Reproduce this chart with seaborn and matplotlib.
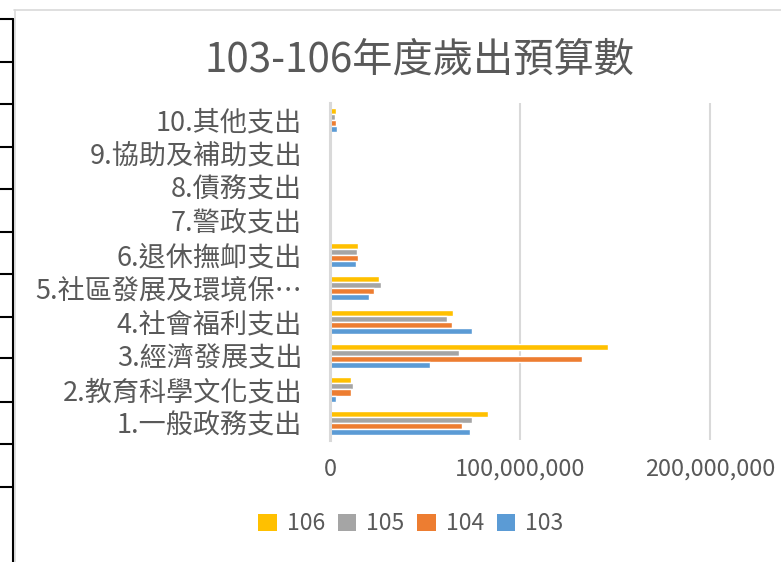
import pandas as pd
import seaborn as sns
import matplotlib.pyplot as plt
from matplotlib.patches import Patch
from matplotlib.lines import Line2D
from matplotlib.ticker import FuncFormatter, MultipleLocator

# 歲出項目 (top to bottom as drawn)
items = ['10.其他支出', '9.協助及補助支出', '8.債務支出', '7.警政支出', '6.退休撫卹支出',
         '5.社區發展及環境保…', '4.社會福利支出', '3.經濟發展支出', '2.教育科學文化支出', '1.一般政務支出']
years = ['106', '105', '104', '103']

# values (NT$)
v106 = [3.2e6, 0, 0, 0, 14.7e6, 25.8e6, 64.6e6, 146.5e6, 10.9e6, 83.3e6]
v105 = [2.8e6, 0, 0, 0, 14.2e6, 26.8e6, 61.4e6, 67.9e6, 12.3e6, 74.9e6]
v104 = [3.2e6, 0, 0, 0, 14.7e6, 23.0e6, 64.2e6, 132.6e6, 10.9e6, 69.6e6]
v103 = [3.5e6, 0, 0, 0, 13.7e6, 20.5e6, 74.7e6, 52.6e6, 3.3e6, 73.7e6]

colors = {'106': '#FFC000', '105': '#A5A5A5', '104': '#ED7D31', '103': '#5B9BD5'}

rows = []
for yr, vals in zip(years, [v106, v105, v104, v103]):
    for it, v in zip(items, vals):
        rows.append({'item': it, 'year': yr, 'value': v})
df = pd.DataFrame(rows)

sns.set_theme(style='white')
plt.rcParams['font.family'] = ['Noto Sans CJK TC', 'DejaVu Sans']
txt = '#595959'

fig = plt.figure(figsize=(7.81, 5.62), dpi=100)
ax = fig.add_axes([330 / 781, 1 - 440 / 562, 475 / 781, 337 / 562])

sns.barplot(data=df, y='item', x='value', hue='year', order=items, hue_order=years,
            palette=colors, width=0.72, saturation=1, orient='h', legend=False, ax=ax)

ax.set_xlim(0, 250e6)
ax.set_ylim(9.5, -0.5)
ax.xaxis.set_major_locator(MultipleLocator(100e6))
ax.xaxis.set_major_formatter(FuncFormatter(lambda x, p: f'{x:,.0f}'))
ax.grid(axis='x', color='#D9D9D9', linewidth=1.5)
ax.set_axisbelow(True)
for s in ['top', 'right', 'bottom']:
    ax.spines[s].set_visible(False)
ax.spines['left'].set_color('#D9D9D9')
ax.spines['left'].set_linewidth(2.2)
ax.set_xlabel('')
ax.set_ylabel('')
ax.tick_params(axis='y', length=0, pad=20, labelsize=19.5, labelcolor=txt)
ax.tick_params(axis='x', length=0, pad=13, labelsize=17, labelcolor=txt)
for lab in ax.get_yticklabels():
    lab.set_fontweight('light')

fig.text(419 / 781, 1 - 60 / 562, '103-106年度歲出預算數', ha='center', va='center',
         fontsize=29, color=txt, fontweight='light')

handles = [Patch(facecolor=colors[y], edgecolor='none', label=y) for y in years]
fig.legend(handles=handles, loc='center', bbox_to_anchor=(411 / 781, 1 - 524 / 562), ncol=4,
           frameon=False, fontsize=16.5, labelcolor=txt, handlelength=0.8, handleheight=0.8,
           handletextpad=0.45, columnspacing=0.55)

# chart border and spreadsheet grid on the left edge of the screenshot
fig.add_artist(Line2D([14 / 781, 1], [1 - 10 / 562] * 2, color='#D9D9D9', lw=1.2))
fig.add_artist(Line2D([14.5 / 781] * 2, [0, 1 - 10 / 562], color='#D9D9D9', lw=1.2))
fig.add_artist(Line2D([13 / 781] * 2, [0, 1 - 19 / 562], color='black', lw=1.5))
for yy in [19, 62, 104, 147, 189, 232, 274, 317, 358, 402, 444, 487]:
    fig.add_artist(Line2D([0, 13 / 781], [1 - yy / 562] * 2, color='black', lw=1.5))

fig.savefig('out.png', dpi=100)
